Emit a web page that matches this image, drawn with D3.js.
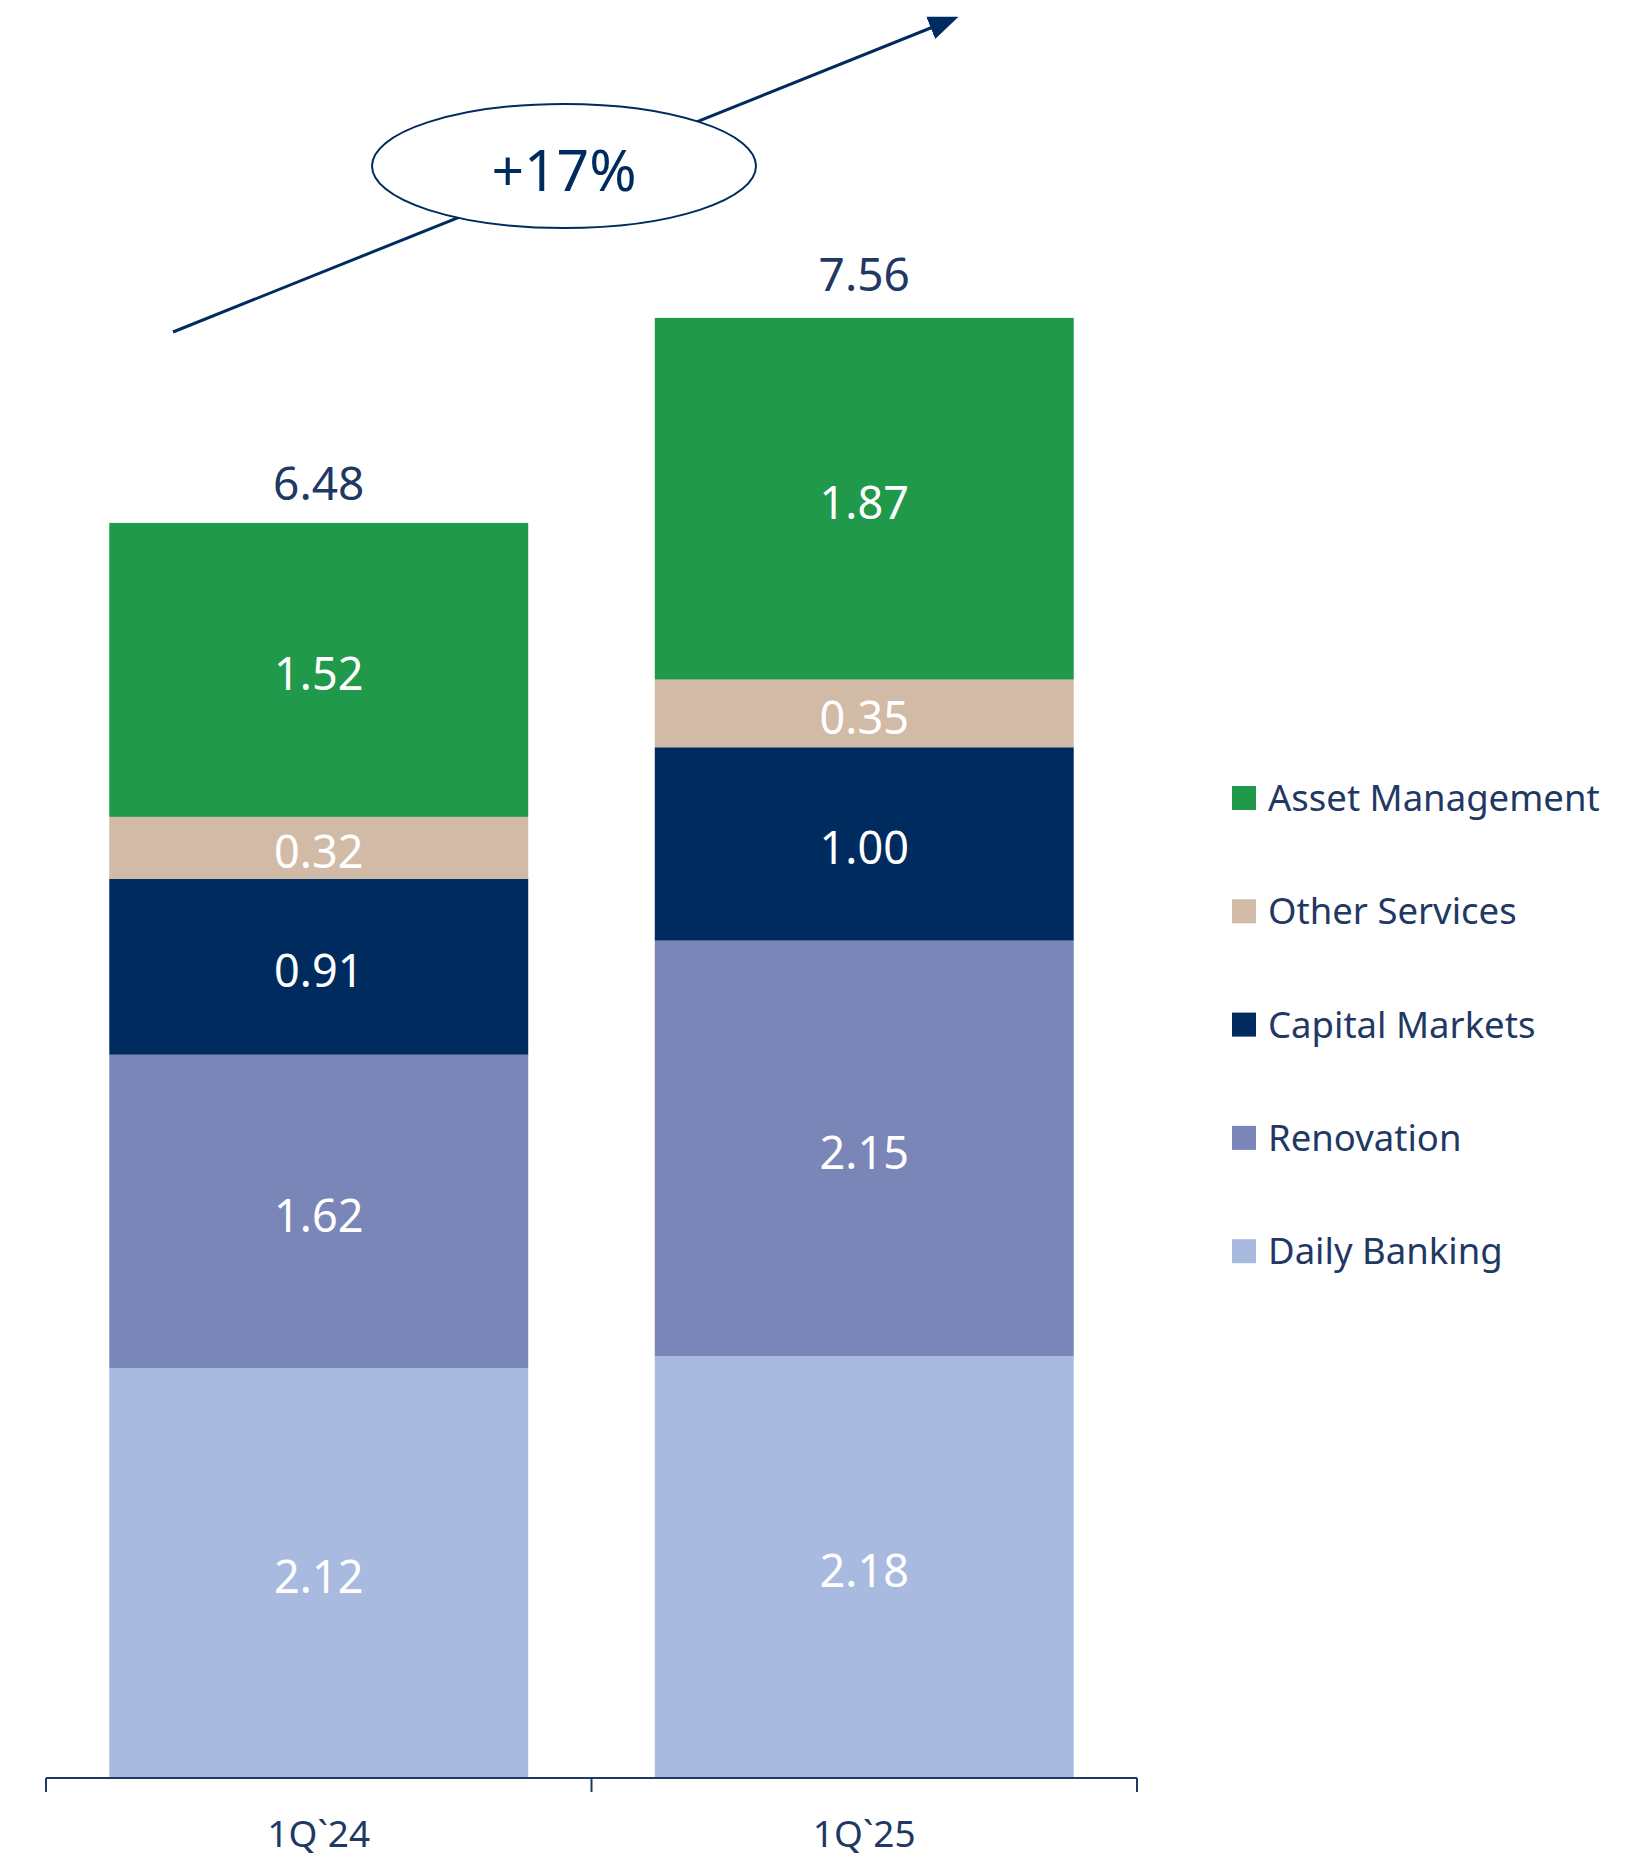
<!DOCTYPE html>
<html>
<head>
<meta charset="utf-8">
<script src="https://cdn.jsdelivr.net/npm/d3@7"></script>
<style>
  html, body { margin: 0; padding: 0; background: #fff; }
  svg { display: block; font-family: "Noto Sans", "Open Sans", sans-serif; }
</style>
</head>
<body>
<svg id="chart"></svg>
<script>
// data
const categories = ["1Q`24", "1Q`25"];
const seriesNames = ["Daily Banking", "Renovation", "Capital Markets", "Other Services", "Asset Management"];
const dailyBanking = [2.12, 2.18];
const renovation = [1.62, 2.15];
const capitalMarkets = [0.91, 1.00];
const otherServices = [0.32, 0.35];
const assetManagement = [1.52, 1.87];
const totals = [6.48, 7.56];
const growthLabel = "+17%";
const seriesColors = ["#a9bae0", "#7a86b8", "#002b5f", "#d1bba7", "#21994a"];

(() => {
  const width = 1650, height = 1857;
  const navy = "#1f3864";

  const svg = d3.select("#chart")
    .attr("width", width)
    .attr("height", height);

  const rows = categories.map((c, i) => ({
    cat: c,
    "Daily Banking": dailyBanking[i],
    "Renovation": renovation[i],
    "Capital Markets": capitalMarkets[i],
    "Other Services": otherServices[i],
    "Asset Management": assetManagement[i],
    total: totals[i]
  }));

  const stacked = d3.stack().keys(seriesNames)(rows);

  const x = d3.scaleBand()
    .domain(categories)
    .range([46, 1137])
    .paddingInner(0.232)
    .paddingOuter(0.116);

  const y = d3.scaleLinear()
    .domain([0, 7.56])
    .range([1778, 316]);

  const color = d3.scaleOrdinal().domain(seriesNames).range(seriesColors);

  // bars
  const layer = svg.append("g").selectAll("g")
    .data(stacked)
    .join("g")
    .attr("fill", d => color(d.key));

  layer.selectAll("rect")
    .data(d => d)
    .join("rect")
    .attr("x", d => x(d.data.cat))
    .attr("y", d => y(d[1]))
    .attr("width", x.bandwidth())
    .attr("height", d => y(d[0]) - y(d[1]));

  // segment labels
  svg.append("g").selectAll("g")
    .data(stacked)
    .join("g")
    .selectAll("text")
    .data(d => d)
    .join("text")
    .attr("x", d => x(d.data.cat) + x.bandwidth() / 2)
    .attr("y", d => (y(d[0]) + y(d[1])) / 2)
    .attr("dy", "0.45em")
    .attr("text-anchor", "middle")
    .attr("fill", "#fff")
    .style("font-size", "45px")
    .text(d => d3.format(".2f")(d[1] - d[0]));

  // totals
  svg.append("g").selectAll("text")
    .data(rows)
    .join("text")
    .attr("x", d => x(d.cat) + x.bandwidth() / 2)
    .attr("y", d => y(d.total) - 25)
    .attr("text-anchor", "middle")
    .attr("fill", navy)
    .style("font-size", "46px")
    .text(d => d3.format(".2f")(d.total));

  // x axis
  const axis = svg.append("g").attr("transform", `translate(0,${y(0)})`);
  axis.append("line")
    .attr("x1", x.range()[0]).attr("x2", x.range()[1])
    .attr("stroke", navy).attr("stroke-width", 2);
  axis.selectAll(".bound")
    .data(d3.range(categories.length + 1))
    .join("line")
    .attr("x1", i => x.range()[0] + i * x.step())
    .attr("x2", i => x.range()[0] + i * x.step())
    .attr("y1", 0).attr("y2", 14)
    .attr("stroke", navy).attr("stroke-width", 2);
  axis.selectAll(".lbl")
    .data(categories)
    .join("text")
    .attr("x", d => x(d) + x.bandwidth() / 2)
    .attr("y", 69)
    .attr("text-anchor", "middle")
    .attr("fill", navy)
    .style("font-size", "37px")
    .text(d => d);

  // legend
  const legend = svg.append("g").attr("transform", "translate(1232,786)");
  const legendItems = legend.selectAll("g")
    .data(seriesNames.slice().reverse())
    .join("g")
    .attr("transform", (d, i) => `translate(0,${i * 113.3})`);
  legendItems.append("rect")
    .attr("width", 24).attr("height", 24)
    .attr("fill", d => color(d));
  legendItems.append("text")
    .attr("x", 36).attr("y", 12)
    .attr("dy", "0.36em")
    .attr("fill", navy)
    .style("font-size", "36.5px")
    .text(d => d);

  // growth arrow
  const defs = svg.append("defs");
  defs.append("marker")
    .attr("id", "arrowhead")
    .attr("viewBox", "0 0 10 10")
    .attr("refX", 8).attr("refY", 5)
    .attr("markerUnits", "userSpaceOnUse")
    .attr("orient", "auto")
    .attr("markerWidth", 30).attr("markerHeight", 30)
    .append("path")
    .attr("d", "M0,1 L10,5 L0,9 Z")
    .attr("fill", "#002b5f");

  svg.append("line")
    .attr("x1", 173).attr("y1", 332)
    .attr("x2", 953).attr("y2", 19)
    .attr("stroke", "#002b5f")
    .attr("stroke-width", 3)
    .attr("marker-end", "url(#arrowhead)");

  svg.append("ellipse")
    .attr("cx", 564).attr("cy", 166)
    .attr("rx", 192).attr("ry", 62)
    .attr("fill", "#fff")
    .attr("stroke", "#002b5f")
    .attr("stroke-width", 2);

  svg.append("text")
    .attr("x", 564).attr("y", 169)
    .attr("dy", "0.38em")
    .attr("text-anchor", "middle")
    .attr("fill", "#002b5f")
    .style("font-size", "57px")
    .text(growthLabel);
})();
</script>
</body>
</html>
